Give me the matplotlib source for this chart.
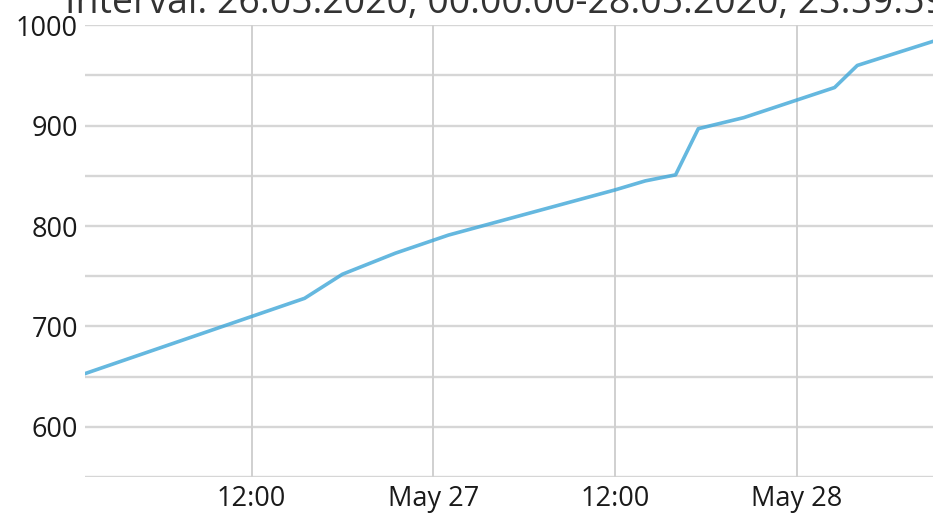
import matplotlib
matplotlib.use('Agg')
import matplotlib.pyplot as plt
import pandas as pd

# ---- data ----
TIMES = ['2020-05-26 01:00', '2020-05-26 15:30', '2020-05-26 18:00', '2020-05-26 21:30',
         '2020-05-27 01:00', '2020-05-27 12:00', '2020-05-27 14:00', '2020-05-27 16:00',
         '2020-05-27 17:30', '2020-05-27 20:30', '2020-05-28 02:30', '2020-05-28 04:00',
         '2020-05-28 09:00']
VALUES = [653, 728, 752, 773, 791, 836, 845, 851, 897, 908, 938, 960, 984]

Y_TICKS = [600, 700, 800, 900, 1000]
Y_GRID = [550, 600, 650, 700, 750, 800, 850, 900, 950, 1000]
X_TICKS = ['2020-05-26 12:00', '2020-05-27 00:00', '2020-05-27 12:00', '2020-05-28 00:00']
X_LABELS = ['12:00', 'May 27', '12:00', 'May 28']
X_RANGE = ['2020-05-26 01:00', '2020-05-28 09:00']
TITLE = 'Interval: 26.05.2020, 00:00:00-28.05.2020, 23:59:59'

plt.rcParams['font.family'] = ['Open Sans', 'DejaVu Sans']

fig = plt.figure(figsize=(9.33, 5.15), dpi=100)
ax = fig.add_axes([85 / 933, 1 - 477 / 515, 1 - 85 / 933, (477 - 25.3) / 515])

t = pd.to_datetime(TIMES)
ax.plot(t, VALUES, color='#3ea6d8', alpha=0.8, linewidth=2.6, zorder=3)

# grid
for v in Y_GRID:
    ax.axhline(v, color='#d6d6d6', linewidth=1.7, zorder=1)
for x in pd.to_datetime(X_TICKS):
    ax.axvline(x, color='#d0d0d0', linewidth=1.4, zorder=1)

ax.set_ylim(550, 1000)
ax.set_xlim(pd.to_datetime(X_RANGE[0]), pd.to_datetime(X_RANGE[1]))
ax.set_yticks(Y_TICKS)
ax.set_xticks(pd.to_datetime(X_TICKS))
ax.set_xticklabels(X_LABELS)

for s in ax.spines.values():
    s.set_visible(False)
ax.tick_params(axis='both', length=0, labelsize=19.5, colors='#1a1a1a')
ax.tick_params(axis='y', pad=5)
ax.tick_params(axis='x', pad=6)

# title sits partly above the canvas, as in the reference
fig.text(65 / 933, 1 - 13 / 515, TITLE, fontsize=27, color='#333333',
         ha='left', va='baseline')

fig.savefig('out.png', dpi=100)
